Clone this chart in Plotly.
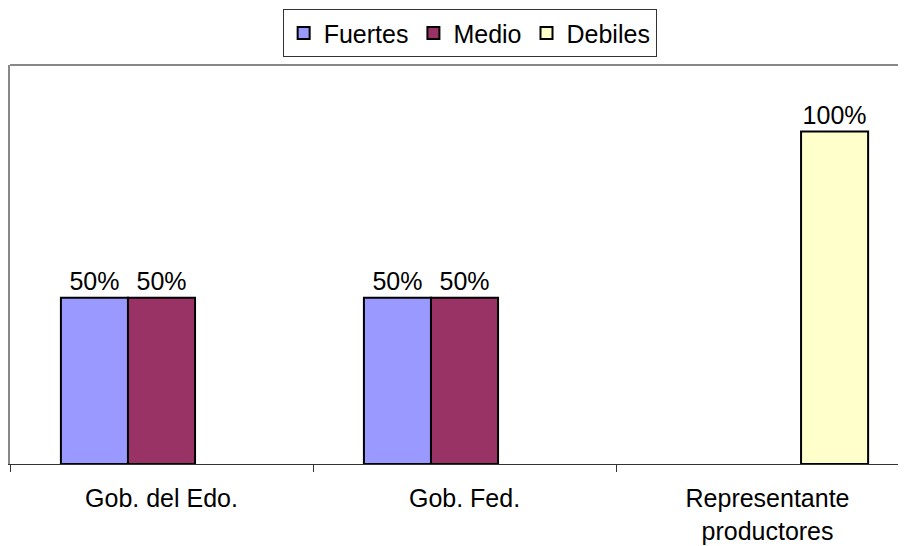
import plotly.graph_objects as go

categories = ["Gob. del Edo.", "Gob. Fed.", "Representante<br>productores"]
fuertes = [50, 50, None]
medio = [50, 50, None]
debiles = [None, None, 100]

series = [
    ("Fuertes", fuertes, "#9999FF"),
    ("Medio", medio, "#993366"),
    ("Debiles", debiles, "#FFFFCC"),
]

fig = go.Figure()
for name, vals, color in series:
    fig.add_trace(go.Bar(
        name=name, x=categories, y=vals,
        marker=dict(color=color, line=dict(color="black", width=2)),
        text=[f"{v}%" if v is not None else "" for v in vals],
        textposition="outside",
        textfont=dict(size=25, color="black"),
        cliponaxis=False,
    ))

fig.update_layout(
    width=898, height=538,
    barmode="group", bargap=0.336, bargroupgap=0,
    margin=dict(l=2, r=0, t=57, b=82, autoexpand=False),
    paper_bgcolor="white", plot_bgcolor="white",
    font=dict(family="Liberation Sans, Arial, sans-serif", size=25, color="black"),
    showlegend=True,
    legend=dict(orientation="h", x=0.513, xanchor="center", y=1.14, yanchor="top",
                bordercolor="#333333", borderwidth=1, bgcolor="white",
                font=dict(size=25), itemwidth=30, tracegroupgap=0),
    xaxis=dict(range=[-0.5, 2.457], tickson="boundaries", ticks="outside", ticklen=7,
               tickcolor="#333333", showline=True, linecolor="#333333", linewidth=1,
               showgrid=False, tickfont=dict(size=25), ticklabelstandoff=12),
    yaxis=dict(range=[0, 120], showticklabels=False, showgrid=False, zeroline=False,
               showline=True, linecolor="#888888", linewidth=2, ticks=""),
    shapes=[dict(type="line", xref="paper", yref="paper", x0=0, x1=1, y0=1, y1=1,
                 line=dict(color="#888888", width=2))],
)

fig.write_html("out.html")
